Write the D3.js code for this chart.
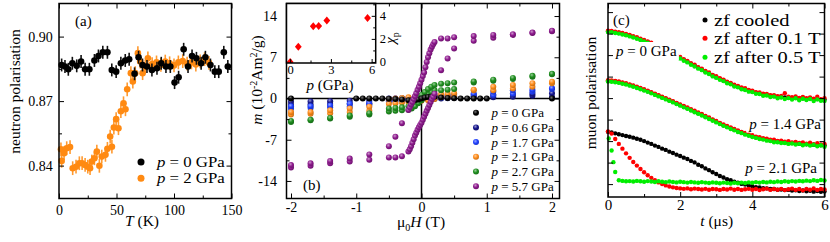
<!DOCTYPE html>
<html>
<head>
<meta charset="UTF-8">
<title>Polarisation and magnetisation under pressure</title>
<script src="https://d3js.org/d3.v7.min.js"></script>
<style>
  html, body { margin: 0; padding: 0; background: #fff; }
  svg text { font-family: "Liberation Serif", "Times New Roman", serif; }
</style>
</head>
<body>
<div id="chart"></div>
<script>
// ---------- (a) neutron polarisation vs temperature ----------
const aBlackT = [2.3,5.2,8.1,11.6,15.4,19.2,22.7,26.4,30.8,34.3,38.1,42.1,45.9,49.7,53.8,57.6,61.0,65.7,69.2,72.6,
  76.5,80.8,85.2,88.9,93.0,96.8,100.5,104.0,108.4,112.2,115.7,119.5,123.6,127.3,131.7,135.5,138.9,143.3,146.8];
const aBlackP = [0.8868,0.8861,0.8848,0.8876,0.8864,0.8884,0.8848,0.8848,0.8889,0.8910,0.8927,0.8927,0.8845,0.8837,0.8876,
  0.8889,0.8895,0.8827,0.8904,0.8868,0.8861,0.8845,0.8853,0.8876,0.8861,0.8861,0.8786,0.8811,0.8941,0.8861,
  0.8910,0.8899,0.8876,0.8904,0.8868,0.8837,0.8837,0.8927,0.8861];
const aBlackErr = 0.003;
const aOrangeT = [1.7,2.3,4.4,6.7,9.6,11.9,14.8,17.7,20.1,22.7,25.0,27.0,28.5,30.8,32.9,35.1,37.2,40.4,42.1,44.5,
  46.0,47.7,49.7,51.7,53.8,56.1,57.8,59.3,62.5,64.2,66.3,68.6,70.6,72.7,75.0,77.3,81.0,84.8,88.6,92.4,
  96.2,100.0,103.8,107.6,111.4,115.2,119.0,122.8,126.6,130.4];
const aOrangeP = [0.8476,0.8422,0.8458,0.8481,0.8486,0.8388,0.8395,0.8411,0.8411,0.8403,0.8395,0.8388,0.8419,0.8434,0.8465,
  0.8399,0.8442,0.8450,0.8478,0.8535,0.8488,0.8577,0.8616,0.8574,0.8653,0.8690,0.8662,0.8755,0.8830,0.8791,
  0.8830,0.8923,0.8884,0.8830,0.8860,0.8899,0.8872,0.8880,0.8868,0.8884,0.8876,0.8866,0.8880,0.8886,0.8874,
  0.8880,0.8870,0.8885,0.8895,0.8878];
const aOrangeErr = 0.0032;
const aLegend = ['0', '2'];

// ---------- (b) magnetisation loops ----------
const bPressures = [0, 0.6, 1.7, 2.1, 2.7, 5.7];
const bBlackH = [-2,-1,-0.9,-0.8,-0.7,-0.6,-0.5,-0.4,-0.3,-0.2,-0.15,-0.1,-0.05,0,0.05,0.1,0.15,0.2,0.3,0.4,0.5,0.6,0.7,0.8,0.9,1,2];
const bBlackM = [0,0,0,0,0,0,-0.05,-0.1,-0.15,-0.3,-0.3,-0.25,-0.15,0,0.15,0.25,0.3,0.3,0.15,0.1,0.05,0,0,0,0,0,0];
const bStepH = [-2,-1.7,-1.4,-1.1,-0.8,-0.5,-0.4,-0.3,-0.2,-0.1,0,0.1,0.2,0.3,0.4,0.5,0.8,1.1,1.4,1.7,2];
const bNavyDown = [-0.55,-0.5,-0.45,-0.4,-0.4,0.0,0.0,0.05,0.05,0.1,0.1,0.15,0.2,0.2,0.25,0.3,0.35,0.6,0.75,0.8,0.9];
const bNavyUp = [-1.1,-1.0,-0.95,-0.9,-0.9,-0.3,-0.3,-0.25,-0.2,-0.2,-0.15,-0.1,-0.05,0.0,0.05,0.1,0.3,0.2,0.3,0.45,0.25];
const bBlueDown = [-1.3,-1.3,-1.2,-0.9,-0.8,-0.1,0.0,0.05,0.1,0.15,0.2,0.3,0.4,0.5,0.55,0.6,0.8,1.15,1.4,1.5,1.75];
const bBlueUp = [-1.7,-1.6,-1.5,-1.4,-1.1,-0.5,-0.45,-0.4,-0.35,-0.3,-0.2,-0.1,0.0,0.1,0.2,0.3,0.7,0.6,0.8,1.15,1.6];
const bOrangeDown = [-2.3,-2.3,-2.0,-1.7,-1.4,-0.1,0.0,0.1,0.2,0.3,0.4,0.5,0.6,0.7,0.8,0.9,1.5,2.0,2.3,2.6,2.85];
const bOrangeUp = [-2.7,-2.6,-2.5,-2.3,-2.1,-0.9,-0.8,-0.7,-0.6,-0.5,-0.4,-0.3,-0.1,0.2,0.3,0.35,1.4,1.4,1.7,2.0,2.6];
const bGreenH = [-2,-1.7,-1.4,-1.1,-0.8,-0.5,-0.4,-0.3,-0.2,-0.15,-0.1,-0.05,0,0.05,0.1,0.15,0.2,0.3,0.4,0.5,0.8,1.1,1.4,1.7,2];
const bGreenDown = [-3.8,-3.6,-3.3,-2.9,-2.5,-1.7,-1.6,-1.5,-1.3,-0.9,-0.4,0.1,0.6,1.1,1.6,2.0,2.3,2.5,2.6,2.7,2.9,3.2,3.5,3.85,4.2];
const bGreenUp = [-4.0,-3.7,-3.4,-3.1,-2.7,-2.2,-2.1,-2.0,-1.9,-1.7,-1.3,-0.8,-0.3,0.2,0.7,1.1,1.4,1.4,1.5,1.6,2.7,3.0,3.3,3.7,4.1];
const bPurpleH = [-2,-1.7,-1.4,-1.1,-0.8,-0.5,-0.4,-0.3,-0.2,-0.18,-0.16,-0.14,-0.12,-0.1,-0.08,-0.06,-0.04,-0.02,0,
  0.02,0.04,0.06,0.08,0.1,0.12,0.14,0.16,0.18,0.2,0.3,0.4,0.5,0.8,1.1,1.4,1.7,2];
const bPurpleDown = [-11.3,-11.0,-10.6,-10.2,-9.5,-8.1,-6.5,-4.2,-1.95,-1.5,-1.0,-0.6,-0.1,0.4,0.9,1.5,2.0,2.6,3.2,
  3.8,4.4,5.3,6.2,7.0,7.7,8.3,8.8,9.2,9.6,10.2,10.2,10.4,10.6,10.8,10.9,11.2,11.5];
const bPurpleUp = [-11.7,-11.4,-11.0,-10.7,-10.4,-10.0,-10.0,-9.8,-9.0,-8.6,-8.1,-7.5,-6.9,-6.3,-5.8,-5.3,-4.9,-4.5,-4.1,
  -3.6,-3.1,-2.6,-2.1,-1.6,-1.1,-0.6,-0.1,0.3,0.8,4.8,6.8,8.5,9.8,10.3,10.8,11.1,11.4];
// inset: chi_p against pressure
const insetChi = [0, 1.31, 3.09, 3.12, 3.6, 3.82];

// ---------- (c) muon polarisation vs time ----------
const tGrid = [0,0.1,0.2,0.3,0.4,0.5,0.6,0.7,0.8,0.9,1,1.1,1.2,1.3,1.4,1.5,1.6,1.7,1.8,1.9,2,2.1,2.2,2.3,2.4,2.5,2.6,2.7,2.8,2.9,
  3,3.1,3.2,3.3,3.4,3.5,3.6,3.7,3.8,3.9,4,4.1,4.2,4.3,4.4,4.5,4.6,4.7,4.8,4.9,5,5.1,5.2,5.3,5.4,5.5,5.6,5.7,5.8,5.9,6];
const c0Black = [0.810,0.809,0.806,0.803,0.799,0.795,0.790,0.785,0.779,0.773,0.767,0.761,0.754,0.747,0.739,0.731,0.723,0.714,0.705,0.696,
  0.687,0.678,0.669,0.659,0.651,0.641,0.633,0.623,0.615,0.605,0.598,0.589,0.582,0.573,0.567,0.559,0.553,0.546,0.541,0.535,
  0.531,0.525,0.522,0.517,0.515,0.511,0.509,0.506,0.505,0.503,0.503,0.500,0.501,0.498,0.499,0.496,0.498,0.494,0.496,0.491,0.493];
const c0Red = [0.813,0.812,0.809,0.806,0.803,0.798,0.794,0.788,0.783,0.776,0.771,0.764,0.758,0.750,0.743,0.734,0.727,0.717,0.709,0.699,
  0.691,0.681,0.673,0.662,0.655,0.644,0.637,0.626,0.619,0.608,0.602,0.592,0.586,0.576,0.571,0.562,0.557,0.549,0.546,0.538,
  0.535,0.528,0.526,0.520,0.519,0.514,0.514,0.509,0.510,0.523,0.506,0.504,0.508,0.501,0.505,0.499,0.503,0.497,0.506,0.495,0.500];
const c0Green = [0.807,0.806,0.803,0.800,0.796,0.792,0.787,0.782,0.776,0.770,0.764,0.758,0.751,0.744,0.736,0.728,0.720,0.711,0.702,0.693,
  0.684,0.674,0.666,0.655,0.647,0.637,0.630,0.619,0.612,0.601,0.594,0.585,0.579,0.569,0.564,0.554,0.550,0.541,0.538,0.530,
  0.528,0.520,0.519,0.511,0.512,0.505,0.507,0.499,0.503,0.496,0.500,0.493,0.499,0.490,0.497,0.491,0.496,0.486,0.494,0.488,0.487];
const c14Black = [0.580,0.579,0.577,0.574,0.570,0.566,0.561,0.556,0.550,0.544,0.538,0.532,0.525,0.518,0.511,0.504,0.497,0.490,0.483,0.475,
  0.468,0.460,0.453,0.445,0.437,0.430,0.422,0.414,0.406,0.398,0.390,0.382,0.374,0.367,0.360,0.353,0.346,0.340,0.334,0.328,
  0.323,0.318,0.314,0.310,0.306,0.303,0.300,0.298,0.296,0.294,0.293,0.291,0.290,0.288,0.287,0.285,0.284,0.283,0.282,0.281,0.280];
const c14Red = [0.583,0.582,0.580,0.577,0.573,0.569,0.564,0.559,0.553,0.547,0.541,0.535,0.528,0.521,0.514,0.507,0.500,0.493,0.486,0.478,
  0.471,0.463,0.456,0.448,0.441,0.433,0.426,0.417,0.410,0.401,0.394,0.385,0.378,0.370,0.364,0.356,0.350,0.343,0.338,0.331,
  0.327,0.321,0.318,0.313,0.311,0.306,0.306,0.301,0.302,0.297,0.299,0.294,0.296,0.291,0.294,0.288,0.292,0.286,0.290,0.284,0.287];
const c14Green = [0.577,0.576,0.574,0.571,0.567,0.563,0.558,0.553,0.547,0.541,0.535,0.529,0.522,0.515,0.508,0.501,0.494,0.487,0.480,0.472,
  0.465,0.457,0.450,0.442,0.434,0.427,0.419,0.411,0.403,0.395,0.387,0.379,0.371,0.364,0.356,0.350,0.342,0.337,0.330,0.325,
  0.319,0.315,0.310,0.307,0.302,0.300,0.295,0.295,0.291,0.291,0.287,0.289,0.284,0.287,0.281,0.285,0.279,0.283,0.276,0.281,0.274];
const c21Black = [0.343,0.340,0.336,0.332,0.328,0.324,0.320,0.316,0.311,0.306,0.300,0.293,0.287,0.279,0.273,0.265,0.259,0.251,0.245,0.237,
  0.231,0.223,0.217,0.208,0.201,0.190,0.183,0.173,0.165,0.155,0.147,0.138,0.131,0.123,0.118,0.111,0.107,0.101,0.098,0.093,
  0.090,0.086,0.084,0.081,0.080,0.077,0.077,0.074,0.075,0.072,0.073,0.070,0.071,0.068,0.070,0.067,0.069,0.065,0.068,0.064,0.066];
const c21Red = [0.345,0.335,0.310,0.287,0.265,0.243,0.222,0.203,0.186,0.170,0.155,0.141,0.129,0.118,0.108,0.100,0.094,0.089,0.085,0.082,
  0.080,0.078,0.080,0.076,0.079,0.077,0.075,0.078,0.074,0.077,0.076,0.073,0.077,0.075,0.079,0.074,0.077,0.073,0.076,0.078,
  0.074,0.077,0.072,0.076,0.079,0.073,0.077,0.074,0.078,0.072,0.076,0.079,0.073,0.077,0.071,0.078,0.074,0.080,0.073,0.077,0.075];
const c21GreenT = [0.02, 0.1, 0.15, 0.2, 0.3].concat(tGrid.slice(4));
const c21Green = [0.312,0.256,0.202,0.156,0.118,
  0.115,0.113,0.114,0.112,0.115,0.113,0.111,0.114,0.112,0.110,0.113,0.111,0.109,0.112,0.110,0.108,0.111,0.109,0.107,0.110,
  0.108,0.106,0.109,0.107,0.105,0.108,0.106,0.104,0.107,0.105,0.103,0.106,0.104,0.107,0.105,0.108,0.106,0.109,0.107,0.110,
  0.108,0.111,0.109,0.112,0.110,0.113,0.111,0.114,0.112,0.115,0.113,0.116,0.114,0.118,0.115,0.119,0.117];
const cLegend = ['zf cooled', 'zf after 0.1 T', 'zf after 0.5 T'];
const cGroups = ['0', '1.4', '2.1'];

// ---------------------------------------------------------
const svg = d3.select('#chart').append('svg').attr('width', 830).attr('height', 242);
const defs = svg.append('defs');

// rich text with italics / sub / superscripts (shifts in px)
function rich(text, parts, small) {
  let shift = 0;
  parts.forEach(p => {
    const want = p.sup ? -5 : p.sub ? 4 : 0;
    const ts = text.append('tspan').text(p.t);
    if (p.i) ts.attr('font-style', 'italic');
    if (p.sup || p.sub) ts.attr('font-size', small);
    if (want !== shift) { ts.attr('dy', want - shift); shift = want; }
  });
  return text;
}

function axes(g, x, y, o) {
  const [xl, xr] = x.range(), [yb, yt] = y.range();
  const blank = () => '';
  const put = (axis, tr) => g.append('g').attr('transform', tr).call(axis)
    .call(s => s.select('.domain').remove())
    .attr('font-size', o.fontSize || 14)
    .call(s => s.selectAll('line').attr('stroke-width', 1));
  const mk = (fn, vals, size, fmt, pad) => fn.tickValues(vals).tickSize(size).tickPadding(pad || 0).tickFormat(fmt);
  put(mk(d3.axisBottom(x), o.xMajor, -5, o.xFormat || blank, o.xPad), `translate(0,${yb})`);
  put(mk(d3.axisTop(x), o.xMajor, -5, blank), `translate(0,${yt})`);
  put(mk(d3.axisLeft(y), o.yMajor, -5, o.yFormat || blank, o.yPad), `translate(${xl},0)`);
  put(mk(d3.axisRight(y), o.yMajor, -5, blank), `translate(${xr},0)`);
  if (o.xMinor) {
    put(mk(d3.axisBottom(x), o.xMinor, -3, blank), `translate(0,${yb})`);
    put(mk(d3.axisTop(x), o.xMinor, -3, blank), `translate(0,${yt})`);
  }
  if (o.yMinor) {
    put(mk(d3.axisLeft(y), o.yMinor, -3, blank), `translate(${xl},0)`);
    put(mk(d3.axisRight(y), o.yMinor, -3, blank), `translate(${xr},0)`);
  }
  g.append('rect').attr('x', xl).attr('y', yt).attr('width', xr - xl).attr('height', yb - yt)
    .attr('fill', 'none').attr('stroke', '#000').attr('stroke-width', 1.5);
}

// ================= panel (a) =================
const ga = svg.append('g');
const ax = d3.scaleLinear().domain([0, 150]).range([59, 231.5]);
const ay = d3.scaleLinear().domain([0.8247, 0.9154]).range([198.5, 3.5]);

function errSeries(T, P, err, col, barCol) {
  const s = ga.append('g');
  const d = T.map((t, i) => ({ t, p: P[i] }));
  s.selectAll('line').data(d).join('line')
    .attr('x1', d => ax(d.t)).attr('x2', d => ax(d.t))
    .attr('y1', d => ay(d.p - err)).attr('y2', d => ay(d.p + err))
    .attr('stroke', barCol).attr('stroke-width', 1.6);
  s.selectAll('circle').data(d).join('circle')
    .attr('cx', d => ax(d.t)).attr('cy', d => ay(d.p)).attr('r', 3.3).attr('fill', col);
}
errSeries(aOrangeT, aOrangeP, aOrangeErr, '#ff8a12', '#ff9a30');
errSeries(aBlackT, aBlackP, aBlackErr, '#000', '#111');

axes(ga, ax, ay, {
  xMajor: [0, 50, 100, 150], xMinor: [25, 75, 125], yMajor: [0.84, 0.87, 0.90], yMinor: [0.855, 0.885],
  xFormat: d3.format('d'), yFormat: d3.format('.2f'), xPad: 6.5, yPad: 6.3, fontSize: 14
});
ga.append('text').attr('x', 75).attr('y', 26).attr('font-size', 15).text('(a)');
rich(ga.append('text').attr('x', 142).attr('y', 226).attr('font-size', 15.5).attr('text-anchor', 'middle'),
  [{ t: 'T', i: true }, { t: ' (K)' }]);
ga.append('text').attr('transform', 'translate(20,91.5) rotate(-90)').attr('font-size', 15.5)
  .attr('text-anchor', 'middle').text('neutron polarisation');
['#000', '#ff8a12'].forEach((c, i) => {
  ga.append('circle').attr('cx', 141).attr('cy', 162 + 16.3 * i).attr('r', 3.5).attr('fill', c);
  rich(ga.append('text').attr('transform', `translate(157,${167 + 16.3 * i}) scale(1.2,1)`).attr('font-size', 14),
    [{ t: 'p', i: true }, { t: ' = ' + aLegend[i] + ' GPa' }]);
});

// ================= panel (b) =================
const gb = svg.append('g');
const bx = d3.scaleLinear().domain([-2.069, 2.115]).range([286.5, 559.5]);
const by = d3.scaleLinear().domain([-16.98, 16.13]).range([198.5, 3.5]);
const bColors = ['#000000', '#16168c', '#2040ff', '#ff8c1a', '#1f8f1f', '#8e1a8e'];
bColors.forEach((c, i) => {
  const gr = defs.append('radialGradient').attr('id', 'ball' + i)
    .attr('cx', '0.4').attr('cy', '0.35').attr('r', '0.65');
  gr.append('stop').attr('offset', '0%').attr('stop-color', d3.interpolateRgb(c, '#fff')(i === 0 ? 0.45 : 0.55));
  gr.append('stop').attr('offset', '55%').attr('stop-color', c);
  gr.append('stop').attr('offset', '100%').attr('stop-color', d3.rgb(c).darker(0.7));
});

gb.append('line').attr('x1', bx(0)).attr('x2', bx(0)).attr('y1', 3.5).attr('y2', 198.5)
  .attr('stroke', '#000').attr('stroke-width', 1.5);
gb.append('line').attr('x1', 286.5).attr('x2', 559.5).attr('y1', by(0)).attr('y2', by(0))
  .attr('stroke', '#000').attr('stroke-width', 1.5);

function balls(H, M, ci) {
  gb.append('g').selectAll('circle').data(H.map((h, i) => [h, M[i]])).join('circle')
    .attr('cx', d => bx(d[0])).attr('cy', d => by(d[1])).attr('r', 3)
    .attr('fill', `url(#ball${ci})`);
}
balls(bStepH, bNavyUp, 1); balls(bStepH, bNavyDown, 1);
balls(bStepH, bBlueUp, 2); balls(bStepH, bBlueDown, 2);
balls(bStepH, bOrangeUp, 3); balls(bStepH, bOrangeDown, 3);
balls(bGreenH, bGreenUp, 4); balls(bGreenH, bGreenDown, 4);
balls(bBlackH, bBlackM, 0);
balls(bPurpleH, bPurpleUp, 5); balls(bPurpleH, bPurpleDown, 5);

const fmtMinus = d => String(d);
axes(gb, bx, by, {
  xMajor: [-2, -1, 0, 1, 2], xMinor: [-1.5, -0.5, 0.5, 1.5], yMajor: [-14, -7, 0, 7, 14], yMinor: [-10.5, -3.5, 3.5, 10.5],
  xFormat: fmtMinus, yFormat: fmtMinus, xPad: 4, yPad: 9.5, fontSize: 14
});
gb.append('text').attr('x', 303).attr('y', 190).attr('font-size', 15).text('(b)');
rich(gb.append('text').attr('x', 421).attr('y', 227).attr('font-size', 15.5).attr('text-anchor', 'middle'),
  [{ t: 'μ' }, { t: '0', sub: true }, { t: 'H', i: true }, { t: ' (T)' }], 10);
rich(gb.append('text').attr('transform', 'translate(262,80) rotate(-90)').attr('font-size', 15.5)
  .attr('text-anchor', 'middle'),
  [{ t: 'm', i: true }, { t: ' (10' }, { t: '-2', sup: true }, { t: 'Am' }, { t: '2', sup: true }, { t: '/g)' }], 10);

// legend (b)
bPressures.forEach((p, i) => {
  const yy = 112.7 + 14.7 * i;
  gb.append('circle').attr('cx', 476).attr('cy', yy).attr('r', 3).attr('fill', `url(#ball${i})`);
  rich(gb.append('text').attr('x', 491.5).attr('y', yy + 4.5).attr('font-size', 13),
    [{ t: 'p', i: true }, { t: ' = ' + p + ' GPa' }]);
});

// inset
const gi = svg.append('g');
const ix = d3.scaleLinear().domain([-0.27, 6.3]).range([286.5, 375.7]);
const iy = d3.scaleLinear().domain([-0.09, 5.07]).range([63, 3.5]);
gi.append('rect').attr('x', 286.5).attr('y', 3.5).attr('width', 89.2).attr('height', 59.5).attr('fill', '#fff');
defs.append('clipPath').attr('id', 'insetClip').append('rect')
  .attr('x', 286.5).attr('y', 3.5).attr('width', 89.2).attr('height', 59.5);
gi.append('g').attr('clip-path', 'url(#insetClip)').selectAll('path')
  .data(bPressures.map((p, i) => [p, insetChi[i]])).join('path')
  .attr('transform', d => `translate(${ix(d[0])},${iy(d[1])})`)
  .attr('d', 'M0,-4L3.4,0L0,4L-3.4,0Z').attr('fill', '#ff0000');
{
  const blank = () => '';
  const put = (axis, tr) => gi.append('g').attr('transform', tr).call(axis)
    .call(s => s.select('.domain').remove()).attr('font-size', 12.5);
  put(d3.axisBottom(ix).tickValues([0, 3, 6]).tickSize(-4).tickPadding(2.5).tickFormat(d3.format('d')), 'translate(0,63)');
  put(d3.axisBottom(ix).tickValues([1.5, 4.5]).tickSize(-2.5).tickFormat(blank), 'translate(0,63)');
  put(d3.axisRight(iy).tickValues([0, 2, 4]).tickSize(-4).tickPadding(4).tickFormat(d3.format('d')), 'translate(375.7,0)');
  put(d3.axisRight(iy).tickValues([1, 3, 5]).tickSize(-2.5).tickFormat(blank), 'translate(375.7,0)');
}
gi.append('rect').attr('x', 286.5).attr('y', 3.5).attr('width', 89.2).attr('height', 59.5)
  .attr('fill', 'none').attr('stroke', '#000').attr('stroke-width', 1.5);
rich(gi.append('text').attr('x', 330).attr('y', 89.5).attr('font-size', 15).attr('text-anchor', 'middle'),
  [{ t: 'p', i: true }, { t: ' (GPa)' }]);
rich(gi.append('text').attr('transform', 'translate(395,38) rotate(-90)').attr('font-size', 15)
  .attr('text-anchor', 'middle'), [{ t: 'χ', i: true }, { t: 'p', sub: true }], 10);

// ================= panel (c) =================
const gc = svg.append('g');
const cx = d3.scaleLinear().domain([0, 6]).range([608, 824.5]);
const cy = d3.scaleLinear().domain([0.04, 0.94]).range([197, 3.5]);
const cColors = ['#000000', '#ff0000', '#00ee00'];

function dots(T, V, col) {
  gc.append('g').selectAll('circle').data(T.map((t, i) => [t, V[i]])).join('circle')
    .attr('cx', d => cx(d[0])).attr('cy', d => cy(d[1])).attr('r', 2.2).attr('fill', col);
}
dots(tGrid, c0Black, cColors[0]); dots(tGrid, c0Red, cColors[1]); dots(tGrid, c0Green, cColors[2]);
dots(tGrid, c14Black, cColors[0]); dots(tGrid, c14Red, cColors[1]); dots(tGrid, c14Green, cColors[2]);
dots(tGrid, c21Black, cColors[0]); dots(tGrid, c21Red, cColors[1]); dots(c21GreenT, c21Green, cColors[2]);

// pressure labels with white backing
[[616, 56, 'start'], [821, 128.5, 'end'], [817, 172.5, 'end']].forEach((pos, i) => {
  const t = rich(gc.append('text').attr('x', pos[0]).attr('y', pos[1]).attr('font-size', 15)
    .attr('text-anchor', pos[2]), [{ t: 'p', i: true }, { t: ' = ' + cGroups[i] + ' GPa' }]);
  const bb = t.node().getBBox();
  gc.insert('rect', () => t.node()).attr('x', bb.x - 2).attr('y', bb.y - 1)
    .attr('width', bb.width + 4).attr('height', bb.height + 2).attr('fill', '#fff');
});

axes(gc, cx, cy, {
  xMajor: [0, 2, 4, 6], xMinor: [1, 3, 5], yMajor: [0.1, 0.2, 0.3, 0.4, 0.5, 0.6, 0.7, 0.8, 0.9],
  xFormat: d3.format('d'), xPad: 2.5, fontSize: 15
});
gc.append('text').attr('x', 613).attr('y', 24.5).attr('font-size', 15).text('(c)');
rich(gc.append('text').attr('x', 716.7).attr('y', 226).attr('font-size', 15.5).attr('text-anchor', 'middle'),
  [{ t: 't', i: true }, { t: ' (μs)' }]);
gc.append('text').attr('transform', 'translate(596,93) rotate(-90)').attr('font-size', 15.5)
  .attr('text-anchor', 'middle').text('muon polarisation');
cLegend.forEach((lab, i) => {
  const yy = [20, 38.3, 57.3][i];
  gc.append('circle').attr('cx', 705).attr('cy', yy).attr('r', 2.5).attr('fill', cColors[i]);
  gc.append('text').attr('transform', `translate(714,${yy + 5.5}) scale(1.28,1)`)
    .attr('font-size', 16).text(lab);
});
</script>
</body>
</html>
